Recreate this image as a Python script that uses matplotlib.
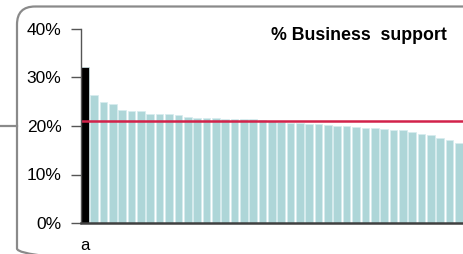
import matplotlib
matplotlib.use("Agg")
import matplotlib.pyplot as plt
from matplotlib.patches import FancyBboxPatch
from matplotlib.ticker import PercentFormatter

plt.rcParams['font.family'] = ['Liberation Sans', 'DejaVu Sans']

# share of business support per unit, sorted (first bar is highlighted)
support = [32.2, 26.4, 25.0, 24.5, 23.2, 23.0, 23.0, 22.4, 22.4, 22.4,
           22.3, 21.9, 21.6, 21.6, 21.6, 21.4, 21.4, 21.4, 21.4, 21.2,
           21.0, 20.8, 20.7, 20.7, 20.4, 20.4, 20.2, 20.1, 20.1, 19.7,
           19.6, 19.6, 19.4, 19.2, 19.2, 18.8, 18.3, 18.1, 17.6, 17.2,
           16.5]
average = 21.0
labels = ['a'] + [''] * (len(support) - 1)
yticks = [0, 10, 20, 30, 40]
title = '% Business  support'

fig = plt.figure(figsize=(4.64, 2.54), dpi=100)

# rounded frame + connector line drawn in pixel coordinates
bg = fig.add_axes([0, 0, 1, 1], zorder=0)
bg.set_xlim(0, 464)
bg.set_ylim(254, 0)
bg.axis('off')
frame = FancyBboxPatch((17, 6.5), 520, 260, boxstyle='round,pad=0,rounding_size=18',
                       facecolor='none', edgecolor='#8a8a8a', linewidth=1.6)
bg.add_patch(frame)
bg.plot([0, 17], [126, 126], color='#8a8a8a', linewidth=1.6)

ax = fig.add_axes([81 / 464, 31 / 254, 1 - 81 / 464, 194 / 254], zorder=1)
ax.patch.set_alpha(0)
colors = ['black'] + ['#AED6D8'] * (len(support) - 1)
ax.bar(range(len(support)), support, width=0.82, color=colors,
       edgecolor='#d6ecee', linewidth=0.5)
ax.axhline(average, color='#D2224A', linewidth=1.8)

ax.set_ylim(0, 40)
ax.set_xlim(-0.41, 40.55)
ax.set_yticks(yticks)
ax.yaxis.set_major_formatter(PercentFormatter(decimals=0))
ax.set_xticks(range(len(support)))
ax.set_xticklabels(labels)
ax.tick_params(axis='x', length=0, pad=11, labelsize=12)
ax.tick_params(axis='y', length=7, width=1, color='#555555', pad=7, labelsize=12.5)

for s in ['top', 'right']:
    ax.spines[s].set_visible(False)
ax.spines['left'].set_color('#555555')
ax.spines['left'].set_linewidth(1)
ax.spines['bottom'].set_color('#404040')
ax.spines['bottom'].set_linewidth(1.8)

fig.text(447 / 464, 1 - 36 / 254, title, ha='right', va='center',
         fontsize=12.8, fontweight='bold')

fig.savefig('out.png', dpi=100)
